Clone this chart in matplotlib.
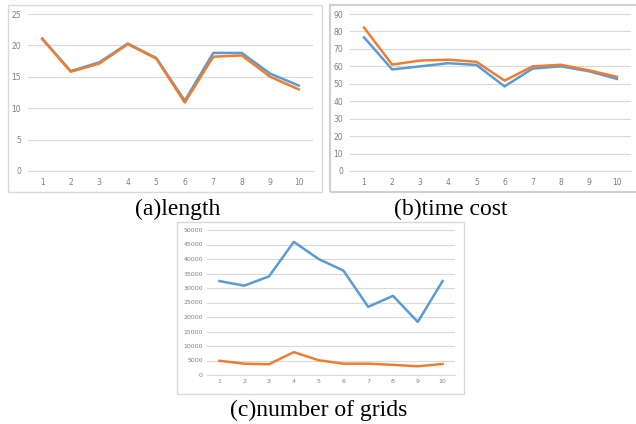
import numpy as np
import matplotlib
matplotlib.use("Agg")
from matplotlib import pyplot as plt
from matplotlib.patches import Rectangle

x = list(range(1, 11))

# (a) length
len_blue = [21.1, 15.9, 17.3, 20.3, 18.0, 11.2, 18.8, 18.8, 15.5, 13.6]
len_orange = [21.0, 15.8, 17.1, 20.2, 17.9, 10.9, 18.2, 18.4, 15.0, 13.0]

# (b) time cost
time_blue = [76.6, 58.2, 60.0, 61.8, 60.8, 48.5, 58.7, 60.0, 57.2, 52.8]
time_orange = [82.2, 61.0, 63.3, 63.8, 62.6, 51.8, 60.0, 60.9, 57.7, 54.0]

# (c) number of grids
grid_blue = [32400, 30800, 34000, 45900, 40000, 36000, 23500, 27300, 18300, 32400]
grid_orange = [4900, 3900, 3700, 7900, 5100, 3900, 3900, 3500, 3000, 3800]

blue = '#5B9BD5'
orange = '#ED7D31'
W, H = 636, 424

fig = plt.figure(figsize=(6.36, 4.24), dpi=100)
fig.patch.set_facecolor('white')


def box(x0, y0, x1, y1, ec='#D9D9D9', lw=1.0):
    fig.patches.append(Rectangle((x0 / W, 1 - y1 / H), (x1 - x0) / W, (y1 - y0) / H,
                                 transform=fig.transFigure, fill=False, ec=ec, lw=lw))


def panel(px0, px1, py0, py1, yb, yo, ymax, ystep, fs=5.5, pad=5):
    ax = fig.add_axes([px0 / W, 1 - py1 / H, (px1 - px0) / W, (py1 - py0) / H])
    ax.plot(x, yb, color=blue, lw=1.8, solid_joinstyle='round')
    ax.plot(x, yo, color=orange, lw=1.8, solid_joinstyle='round')
    ax.set_xlim(0.5, 10.5)
    ax.set_ylim(0, ymax)
    ax.set_xticks(x)
    ax.set_yticks(np.arange(0, ymax + 1, ystep))
    ax.grid(axis='y', color='#D9D9D9', lw=0.8)
    ax.set_axisbelow(True)
    for s in ['top', 'right', 'left']:
        ax.spines[s].set_visible(False)
    ax.spines['bottom'].set_color('#D9D9D9')
    ax.spines['bottom'].set_linewidth(0.8)
    ax.tick_params(length=0, labelsize=fs, labelcolor='#7F7F7F', pad=pad)
    ax.patch.set_alpha(0)
    return ax


box(8, 5, 322, 192)
box(330, 5, 640, 192, ec='#D0D0D0', lw=1.5)
box(177, 222, 464, 394)

panel(28, 313, 14, 171, len_blue, len_orange, 25, 5)
panel(350, 631, 14, 171, time_blue, time_orange, 90, 10)
panel(207, 455, 230, 375, grid_blue, grid_orange, 50000, 5000, fs=4.5, pad=3)

cap = dict(family=['Liberation Serif', 'DejaVu Serif'], fontsize=17, ha='center', va='center')
fig.text(178 / W, 1 - 209 / H, '(a)length', **cap)
fig.text(451 / W, 1 - 209 / H, '(b)time cost', **cap)
fig.text(319 / W, 1 - 410 / H, '(c)number of grids', **cap)

fig.savefig('out.png', dpi=100)
